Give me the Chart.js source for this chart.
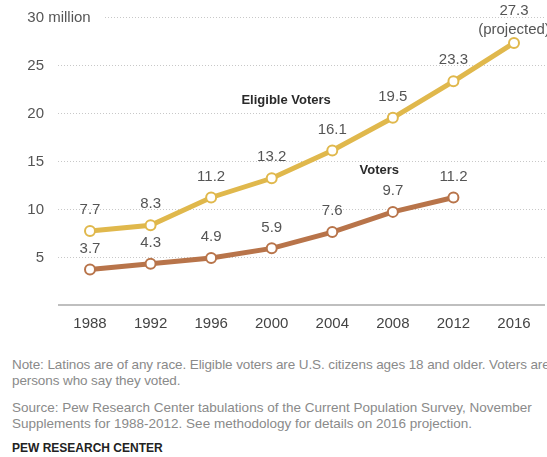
<!DOCTYPE html>
<html>
<head>
<meta charset="utf-8">
<script src="https://cdn.jsdelivr.net/npm/chart.js@4.4.0/dist/chart.umd.min.js"></script>
<style>
  body { margin: 0; background: #fff; font-family: "Liberation Sans", Arial, sans-serif; }
  #wrap { position: relative; width: 547px; height: 457px; overflow: hidden; }
  #chartBox { position: absolute; left: 0; top: 0; width: 547px; height: 335px; }
  .note { position: absolute; left: 12px; font-size: 13.5px; line-height: 15.5px; color: #8a8a8a; white-space: nowrap; letter-spacing: -0.1px; }
  .source { letter-spacing: 0; }
  .brand { position: absolute; left: 12px; top: 441px; font-size: 12px; font-weight: bold; color: #222; }
</style>
</head>
<body>
<div id="wrap">
  <div id="chartBox"><canvas id="myChart"></canvas></div>
  <div class="note" style="top:357px">Note: Latinos are of any race. Eligible voters are U.S. citizens ages 18 and older. Voters are<br>persons who say they voted.</div>
  <div class="note source" style="top:400px">Source: Pew Research Center tabulations of the Current Population Survey, November<br>Supplements for 1988-2012. See methodology for details on 2016 projection.</div>
  <div class="brand">PEW RESEARCH CENTER</div>
</div>
<script>
// election years and Latino counts, in millions
var years = ['1988', '1992', '1996', '2000', '2004', '2008', '2012', '2016'];
var eligibleVoters = [7.7, 8.3, 11.2, 13.2, 16.1, 19.5, 23.3, 27.3];
var voters = [3.7, 4.3, 4.9, 5.9, 7.6, 9.7, 11.2, null];
var yTicks = [5, 10, 15, 20, 25, 30];

var GOLD = '#e0b84c';
var BROWN = '#b8744a';
var FONT = '"Liberation Sans", Arial, sans-serif';
var GRID_LEFT = 58;
var GRID_RIGHT = 545;

// dotted gridlines, baseline and the left-hand tick labels
var gridPlugin = {
    id: 'gridPlugin',
    beforeDatasetsDraw: function(chart) {
        var ctx = chart.ctx;
        var y = chart.scales.y;
        ctx.save();
        ctx.font = '15px ' + FONT;
        ctx.textBaseline = 'middle';
        ctx.fillStyle = '#555';
        var w30 = ctx.measureText('30').width;
        yTicks.forEach(function(t) {
            var py = Math.round(y.getPixelForValue(t)) + 0.5;
            var startX = GRID_LEFT;
            if (t === 30) {
                ctx.textAlign = 'left';
                ctx.fillText('30 million', 44 - w30, py);
                startX = 105;
            } else {
                ctx.textAlign = 'right';
                ctx.fillText(String(t), 44, py);
            }
            ctx.strokeStyle = '#c8c8c8';
            ctx.lineWidth = 1;
            ctx.setLineDash([1, 2]);
            ctx.beginPath();
            ctx.moveTo(startX, py);
            ctx.lineTo(GRID_RIGHT, py);
            ctx.stroke();
        });
        var base = Math.round(y.getPixelForValue(0));
        ctx.setLineDash([]);
        ctx.strokeStyle = '#aaa';
        ctx.lineWidth = 1.5;
        ctx.beginPath();
        ctx.moveTo(GRID_LEFT, base);
        ctx.lineTo(GRID_RIGHT, base);
        ctx.stroke();
        ctx.restore();
    }
};

// value labels above each point, plus the series names
var labelPlugin = {
    id: 'labelPlugin',
    afterDatasetsDraw: function(chart) {
        var ctx = chart.ctx;
        ctx.save();
        ctx.font = '15px ' + FONT;
        ctx.fillStyle = '#555';
        ctx.textAlign = 'center';
        ctx.textBaseline = 'middle';
        chart.data.datasets.forEach(function(ds, i) {
            chart.getDatasetMeta(i).data.forEach(function(pt, j) {
                var v = ds.data[j];
                if (v === null) return;
                if (i === 0 && j === years.length - 1) {
                    ctx.fillText(v.toFixed(1), pt.x, pt.y - 32);
                    ctx.fillText('(projected)', pt.x, pt.y - 13);
                } else {
                    ctx.fillText(v.toFixed(1), pt.x, pt.y - 21);
                }
            });
        });
        var x = chart.scales.x;
        var y = chart.scales.y;
        ctx.font = 'bold 13px ' + FONT;
        ctx.fillStyle = '#2a2a2a';
        ctx.textAlign = 'left';
        ctx.fillText('Eligible Voters', x.getPixelForValue(2.5), y.getPixelForValue(21.3));
        ctx.fillText('Voters', x.getPixelForValue(4.45), y.getPixelForValue(14.0));
        ctx.restore();
    }
};

var ctx = document.getElementById('myChart').getContext('2d');
var myChart = new Chart(ctx, {
    type: 'line',
    data: {
        labels: years,
        datasets: [
            {
                label: 'Eligible Voters',
                data: eligibleVoters,
                borderColor: GOLD,
                borderWidth: 5,
                pointRadius: 5,
                pointBorderWidth: 2,
                pointBackgroundColor: '#fff',
                pointBorderColor: GOLD,
                tension: 0,
                clip: false
            },
            {
                label: 'Voters',
                data: voters,
                borderColor: BROWN,
                borderWidth: 5,
                pointRadius: 5,
                pointBorderWidth: 2,
                pointBackgroundColor: '#fff',
                pointBorderColor: BROWN,
                tension: 0,
                clip: false
            }
        ]
    },
    options: {
        responsive: true,
        maintainAspectRatio: false,
        animation: false,
        layout: { padding: { left: 90, right: 33, top: 17, bottom: 0 } },
        plugins: {
            legend: { display: false },
            tooltip: { enabled: false }
        },
        scales: {
            x: {
                offset: false,
                grid: { display: false },
                border: { display: false },
                ticks: { color: '#444', font: { family: FONT, size: 15 }, padding: 2 }
            },
            y: {
                display: false,
                min: 0,
                max: 30
            }
        }
    },
    plugins: [gridPlugin, labelPlugin]
});
</script>
</body>
</html>
